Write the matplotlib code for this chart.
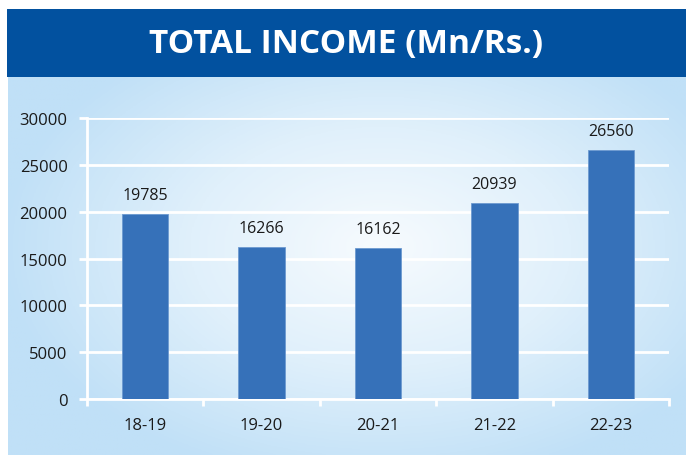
import numpy as np
import matplotlib.pyplot as plt
from matplotlib.colors import LinearSegmentedColormap

years = ['18-19', '19-20', '20-21', '21-22', '22-23']
income = [19785, 16266, 16162, 20939, 26560]
yticks = [0, 5000, 10000, 15000, 20000, 25000, 30000]

plt.rcParams['font.family'] = ['Open Sans', 'DejaVu Sans']

fig = plt.figure(figsize=(6.86, 4.56), dpi=100)
W, H = 686, 456

# background gradient panel below the title bar
bg = fig.add_axes([8 / W, 0, 1 - 8 / W, (456 - 78) / H])
bg.set_axis_off()
yy, xx = np.mgrid[0:1:300j, 0:1:500j]
d = np.sqrt(((xx - 0.55) / 0.75) ** 2 + ((yy - 0.45) / 0.85) ** 2)
d = np.clip(d / 0.75, 0, 1)
cmap = LinearSegmentedColormap.from_list('bgc', ['#f7fbfe', '#e0f0fb', '#c0e0f7'])
bg.imshow(d, cmap=cmap, aspect='auto', extent=[0, 1, 0, 1], vmin=0, vmax=1)

# title bar
tb = fig.add_axes([7 / W, (456 - 78) / H, 1 - 7 / W, 68 / H])
tb.set_axis_off()
tb.add_patch(plt.Rectangle((0, 0), 1, 1, color='#02519f', transform=tb.transAxes))
tb.text(0.5, 0.5, 'TOTAL INCOME (Mn/Rs.)', color='white', fontsize=24,
        fontweight='bold', ha='center', va='center', transform=tb.transAxes)

ax = fig.add_axes([87 / W, 56 / H, (669 - 87) / W, (400 - 119) / H])
ax.patch.set_alpha(0)
x = np.arange(len(years))
bars = ax.bar(x, income, width=0.4, color='#3671b9', edgecolor='#6d9ad0',
              linewidth=0.6, zorder=3)
for xi, v in zip(x, income):
    ax.text(xi, v + 1150, str(v), ha='center', va='bottom', fontsize=11.5,
            color='#1a1a1a')

ax.set_xlim(-0.5, len(years) - 0.5)
ax.set_ylim(0, 30000)
ax.set_yticks(yticks)
ax.set_yticklabels([str(t) for t in yticks], fontsize=12, color='#1a1a1a')
ax.set_xticks(x)
ax.set_xticklabels(years, fontsize=12, color='#1a1a1a')
ax.set_xticks(np.arange(-0.5, len(years)), minor=True)
ax.tick_params(axis='x', which='major', length=0, pad=13)
ax.tick_params(axis='x', which='minor', length=5, width=2, color='white', direction='out')
ax.tick_params(axis='y', length=6, width=2, color='white', pad=8)
ax.grid(axis='y', color='white', linewidth=2, zorder=0)
for side in ['top', 'right']:
    ax.spines[side].set_visible(False)
for side in ['left', 'bottom']:
    ax.spines[side].set_color('white')
    ax.spines[side].set_linewidth(2)

fig.savefig('out.png', dpi=100)
